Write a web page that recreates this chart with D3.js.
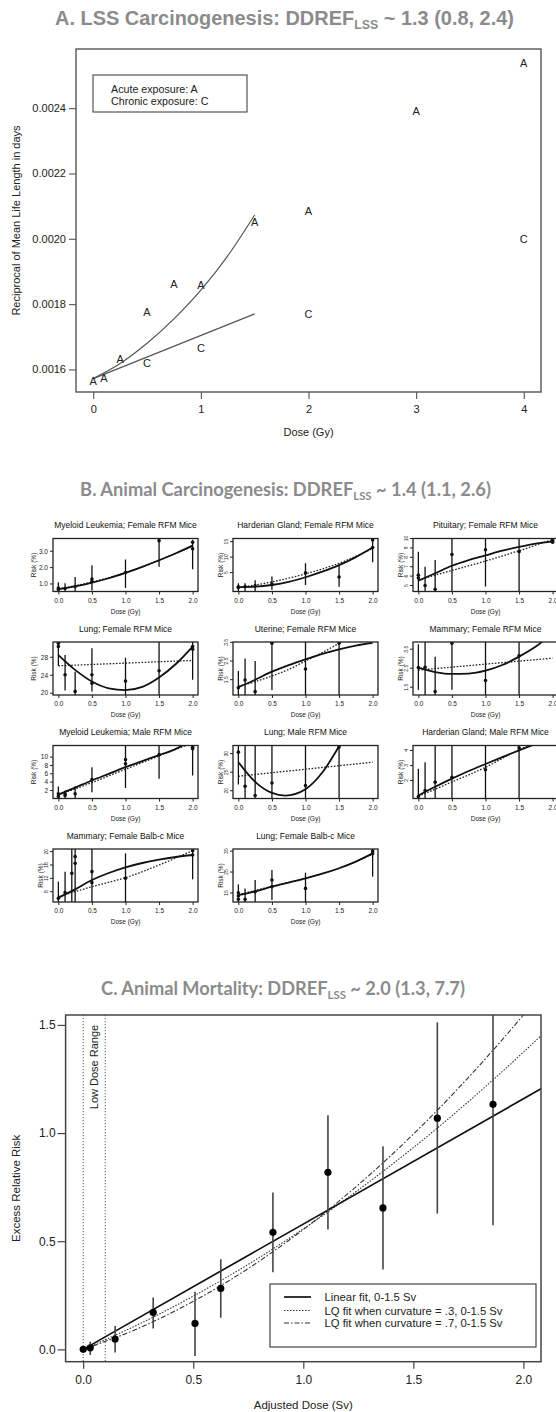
<!DOCTYPE html>
<html><head><meta charset="utf-8">
<script src="https://cdn.jsdelivr.net/npm/d3@7/dist/d3.min.js"></script>
<style>html,body{margin:0;padding:0;background:#fff}svg{display:block}</style>
</head><body>
<svg id="chart" width="556" height="1412"></svg>
<script>
// ================= DATA =================
// ---- Panel A ----
const aXTicks = [0, 1, 2, 3, 4];
const aYTicks = [0.0016, 0.0018, 0.0020, 0.0022, 0.0024];
const acuteDose  = [0, 0.1, 0.25, 0.5, 0.75, 1, 1.5, 2, 3, 4];
const acuteRecip = [0.001564, 0.001575, 0.001632, 0.001775, 0.001861, 0.001858, 0.002052, 0.002085, 0.00239, 0.002538];
const chronicDose  = [0.5, 1, 2, 4];
const chronicRecip = [0.001621, 0.001666, 0.001769, 0.001998];
const acuteFitDose  = [0, 0.25, 0.5, 0.75, 1, 1.25, 1.5];
const acuteFitRecip = [0.001572, 0.001618, 0.00168, 0.001755, 0.001843, 0.001948, 0.002073];
const chronicFitDose  = [0, 1.5];
const chronicFitRecip = [0.001572, 0.00177];
const aLegend = ["Acute exposure: A", "Chronic exposure: C"];

// ---- Panel B ----
const bXTicks = [0, 0.5, 1, 1.5, 2];
const bTitles = ["Myeloid Leukemia; Female RFM Mice", "Harderian Gland; Female RFM Mice", "Pituitary; Female RFM Mice",
  "Lung; Female RFM Mice", "Uterine; Female RFM Mice", "Mammary; Female RFM Mice",
  "Myeloid Leukemia; Male RFM Mice", "Lung; Male RFM Mice", "Harderian Gland; Male RFM Mice",
  "Mammary; Female Balb-c Mice", "Lung; Female Balb-c Mice"];
const bYRange = [[0.54,3.78],[-1.1,16.0],[4.36,10.0],[19.6,31.4],[0.68,3.52],[1.09,3.88],[0.07,12.8],[17.9,32.2],[0.8,4.33],[4.9,20.8],[10.7,36.0]];
const bYTickLabels = [["1.0","2.0","3.0"],["5","10","15"],["5","6","7","8","9","10"],["20","24","28"],["1.5","2.5","3.5"],["1.5","2.5","3.5"],
  ["2","4","6","8","10"],["20","25","30"],["2","3","4"],["8","12","16","20"],["15","25","35"]];

// points [dose, risk], error bars [dose, low, high], solid fit [dose, risk], dotted fit [dose, risk]
const b01Pts = [[0,0.75],[0,0.66],[0.1,0.72],[0.25,0.85],[0.5,1.3],[0.5,1.15],[1,1.7],[1.5,3.65],[2,3.55],[2,3.15]];
const b01Err = [[0,0.45,1.1],[0.1,0.45,1.05],[0.25,0.5,1.42],[0.5,0.6,2.15],[1,0.75,2.5],[1.5,2.06,3.9],[2,1.9,3.7]];
const b01Sol = [[0,0.68],[0.25,0.85],[0.5,1.08],[0.75,1.35],[1,1.68],[1.25,2.05],[1.5,2.45],[1.75,2.88],[2,3.35]];
const b01Dot = [[0,0.7],[0.5,1.12],[1,1.7],[1.5,2.45],[2,3.3]];

const b02Pts = [[0,0.4],[0,0.2],[0.1,0.5],[0.25,0.7],[0.5,1.3],[1,4.9],[1.5,3.6],[2,15.5],[2,13.1]];
const b02Err = [[0,-2,1.6],[0.1,-2,1.6],[0.25,-2,2.5],[0.5,-0.5,3.7],[1,1.0,8],[1.5,0.4,7.4],[2,8.3,17]];
const b02Sol = [[0,0.3],[0.25,0.45],[0.5,1.0],[0.75,2.0],[1,3.5],[1.25,5.3],[1.5,7.4],[1.75,10.0],[2,13.1]];
const b02Dot = [[0,0.1],[0.5,2.0],[1,4.6],[1.5,8.0],[2,12.8]];

const b03Pts = [[0,6.1],[0,5.8],[0.1,5.0],[0.25,4.6],[0.5,8.3],[1,8.8],[1.5,8.6],[2,9.8],[2,9.6]];
const b03Err = [[0,4.0,8.6],[0.1,4.0,7.0],[0.25,4.0,7.7],[0.5,4.0,11],[1,4.9,11],[1.5,4.0,11]];
const b03Sol = [[0,5.5],[0.25,6.3],[0.5,7.1],[0.75,7.7],[1,8.2],[1.25,8.7],[1.5,9.1],[1.75,9.45],[2,9.7]];
const b03Dot = [[0,5.56],[0.25,6.1],[0.5,6.6],[1,7.6],[1.5,8.7],[2,9.9]];

const b04Pts = [[0,31.1],[0,30.4],[0.1,24.1],[0.25,20.4],[0.5,24.1],[0.5,22.2],[1,22.7],[1.5,25.0],[2,30.4],[2,29.8]];
const b04Err = [[0,26.1,33],[0.1,20.6,28.5],[0.25,18,24.8],[0.5,20.4,30],[1,18,27.9],[1.5,18,33],[2,23.0,33]];
const b04Sol = [[0,28.5],[0.25,25.2],[0.5,22.6],[0.75,21.1],[1,20.7],[1.25,21.4],[1.5,23.5],[1.75,26.5],[2,30.4]];
const b04Dot = [[0,26.1],[2,27.3]];

const b05Pts = [[0,1.07],[0.1,1.48],[0.25,0.86],[0.5,3.45],[1,2.07],[1.5,3.45]];
const b05Err = [[0,0.5,1.97],[0.1,0.5,2.64],[0.25,0.5,2.5],[0.5,0.95,4],[1,0.5,4],[1.5,0.5,4]];
const b05Sol = [[0,1.1],[0.25,1.5],[0.5,1.93],[0.75,2.28],[1,2.59],[1.25,2.88],[1.5,3.13],[1.75,3.33],[2,3.48]];
const b05Dot = [[0,1.15],[0.25,1.39],[0.5,1.7],[0.75,2.05],[1,2.5],[1.25,2.95],[1.5,3.45],[1.6,3.65]];

const b06Pts = [[0,2.53],[0.1,2.55],[0.25,1.27],[0.5,3.82],[1,1.85],[1.5,3.15]];
const b06Err = [[0,1.36,3.76],[0.1,0.9,4.2],[0.25,0.9,3.11],[0.5,1.36,4.2],[1,0.9,4.2],[1.5,0.9,4.2]];
const b06Sol = [[0,2.53],[0.25,2.3],[0.5,2.2],[0.75,2.22],[1,2.37],[1.25,2.67],[1.5,3.11],[1.75,3.64],[1.85,3.9]];
const b06Dot = [[0,2.4],[2,3.03]];

const b07Pts = [[0,1.2],[0,0.55],[0.1,0.8],[0.1,1.2],[0.25,1.2],[0.5,4.6],[1,9.4],[1,8.4],[1.5,10.6],[2,12.4],[2,12.0]];
const b07Err = [[0,-1,2.96],[0.1,-1,2.0],[0.25,-1,3.0],[0.5,1.6,7.6],[1,2.6,13],[1.5,4.8,13],[2,5.6,13]];
const b07Sol = [[0,1.0],[0.25,2.7],[0.5,4.4],[0.75,6.0],[1,7.6],[1.25,9.05],[1.5,10.5],[1.75,12.0],[1.85,12.8]];
const b07Dot = [[0,0.9],[0.5,3.9],[1,7.1],[1.5,10.3],[1.9,12.8]];

const b08Pts = [[0,30.4],[0.1,21.2],[0.25,18.7],[0.5,22.1],[1,21.4],[1.5,31.8]];
const b08Err = [[0,21.7,33],[0.1,17,33],[0.25,17,33],[0.5,17,33],[1,17,33],[1.5,17,33]];
const b08Sol = [[0,27.7],[0.25,22.4],[0.5,19.4],[0.7,18.7],[1,20.4],[1.25,24.9],[1.5,32]];
const b08Dot = [[0,23.9],[2,27.7]];

const b09Pts = [[0,0.93],[0.1,1.33],[0.25,1.89],[0.5,2.22],[1,2.71],[1.5,4.18]];
const b09Err = [[0,0.5,2.78],[0.1,0.5,3.22],[0.25,0.5,4.5],[0.5,0.5,4.5],[1,0.5,4.5],[1.5,0.5,4.5]];
const b09Sol = [[0,1.0],[0.25,1.58],[0.5,2.12],[0.75,2.63],[1,3.1],[1.25,3.56],[1.5,4.0],[1.7,4.35]];
const b09Dot = [[0,0.95],[0.5,1.9],[1,2.88],[1.5,4.05],[1.65,4.35]];

const b10Pts = [[0,6.0],[0.1,7.7],[0.2,13.5],[0.25,18.5],[0.25,16.5],[0.5,14],[0.5,10.7],[1,12],[2,20.3],[2,19.0]];
const b10Err = [[0,4,11],[0.1,4,14],[0.2,4,22],[0.25,4,22],[0.5,4,22],[1,4,19.5],[2,11.7,22]];
const b10Sol = [[0,6.2],[0.25,8.7],[0.5,11.5],[0.75,13.6],[1,15.3],[1.25,16.6],[1.5,17.6],[1.75,18.4],[2,19.0]];
const b10Dot = [[0,6.5],[0.25,8.0],[0.5,9.5],[0.75,10.8],[1,12.2],[1.5,16.0],[2,20.3]];

const b11Pts = [[0,15.1],[0,13.6],[0,12.0],[0.1,12.0],[0.25,15.6],[0.5,21.2],[0.5,18.0],[1,17.2],[2,35.1],[2,33.9]];
const b11Err = [[0,9,19.1],[0.1,9,17.2],[0.25,9,21.2],[0.5,11.7,26],[1,9,24.7],[2,22.8,37]];
const b11Sol = [[0,14],[0.25,15.8],[0.5,18],[0.75,20],[1,22],[1.25,24.2],[1.5,26.8],[1.75,30],[2,33.9]];
const b11Dot = [[0,14.2],[0.5,18.2],[1,22],[1.5,26.8],[2,33.5]];

// ---- Panel C ----
const cXTicks = [0, 0.5, 1, 1.5, 2];
const cYTicks = [0, 0.5, 1, 1.5];
const cDose = [0, 0.032, 0.145, 0.318, 0.508, 0.625, 0.862, 1.112, 1.362, 1.609, 1.862];
const cERR  = [0, 0.007, 0.048, 0.171, 0.12, 0.282, 0.541, 0.819, 0.654, 1.069, 1.133];
const cLow  = [null, -0.026, -0.014, 0.097, -0.031, 0.146, 0.357, 0.554, 0.369, 0.628, 0.574];
const cHigh = [null, 0.035, 0.108, 0.24, 0.266, 0.417, 0.725, 1.082, 0.939, 1.512, 1.7];
const cLinDose = [0, 2.08];
const cLinERR  = [0, 1.205];
const cLQDose  = [0, 0.25, 0.5, 0.75, 1, 1.25, 1.5, 1.75, 2, 2.08];
const cLQ3ERR  = [0, 0.115, 0.246, 0.393, 0.557, 0.737, 0.933, 1.145, 1.374, 1.45];
const cLQ7ERR  = [0, 0.097, 0.222, 0.374, 0.554, 0.761, 0.995, 1.257, 1.546, 1.644];
const cLegend = ["Linear fit, 0-1.5 Sv", "LQ fit when curvature = .3, 0-1.5 Sv", "LQ fit when curvature = .7, 0-1.5 Sv"];

// ================= DRAWING =================
const svg = d3.select('#chart');
const SANS = "'Liberation Sans', Arial, Helvetica, sans-serif";
const TITLEGRAY = '#8b8b8b';

function fitTitle(p1, sub, p2, cx, base, targetW, family) {
  const t = svg.append('text').attr('x', cx).attr('y', base).attr('text-anchor', 'middle')
    .attr('font-family', family).attr('font-weight', 700).attr('font-size', 20).attr('fill', TITLEGRAY);
  t.append('tspan').text(p1);
  t.append('tspan').attr('font-size', '0.62em').attr('dy', '0.36em').text(sub);
  t.append('tspan').attr('dy', '-0.223em').text(p2);
  const w = t.node().getComputedTextLength();
  t.attr('font-size', 20 * targetW / w);
}

// ---------- Panel A ----------
fitTitle("A. LSS Carcinogenesis: DDREF", "LSS", " ~ 1.3 (0.8, 2.4)", 284.5, 25, 459, SANS);
{
  const L = 76, R = 541, T = 49, B = 392;
  const ax = d3.scaleLinear().domain([-0.16, 4.16]).range([L, R]);
  const ay = d3.scaleLinear().domain([0.001531, 0.002581]).range([B, T]);
  const g = svg.append('g');
  const xa = g.append('g').attr('transform', `translate(0,${B})`)
    .call(d3.axisBottom(ax).tickValues(aXTicks).tickFormat(d3.format('d')).tickSize(7).tickPadding(6));
  const ya = g.append('g').attr('transform', `translate(${L},0)`)
    .call(d3.axisLeft(ay).tickValues(aYTicks).tickFormat(d3.format('.4f')).tickSize(7).tickPadding(3));
  [xa, ya].forEach(a => {
    a.select('.domain').remove();
    a.selectAll('line').attr('stroke', '#555').attr('stroke-width', 1.1);
    a.selectAll('text').attr('font-family', SANS).attr('font-size', 11).attr('fill', '#222');
  });
  g.append('rect').attr('x', L).attr('y', T).attr('width', R - L).attr('height', B - T)
    .attr('fill', 'none').attr('stroke', '#555').attr('stroke-width', 1.4);
  g.append('text').attr('x', (L + R) / 2).attr('y', 436).attr('text-anchor', 'middle')
    .attr('font-family', SANS).attr('font-size', 11).attr('fill', '#222').text('Dose (Gy)');
  g.append('text').attr('transform', `translate(20,${(T + B) / 2}) rotate(-90)`).attr('text-anchor', 'middle')
    .attr('font-family', SANS).attr('font-size', 11).attr('fill', '#222').text('Reciprocal of Mean Life Length in days');

  const line = d3.line().x(d => ax(d[0])).y(d => ay(d[1])).curve(d3.curveMonotoneX);
  g.append('path').attr('d', line(d3.zip(acuteFitDose, acuteFitRecip))).attr('fill', 'none').attr('stroke', '#555').attr('stroke-width', 1.2);
  g.append('path').attr('d', line(d3.zip(chronicFitDose, chronicFitRecip))).attr('fill', 'none').attr('stroke', '#555').attr('stroke-width', 1.2);

  g.selectAll('.pa').data(d3.zip(acuteDose, acuteRecip)).join('text').attr('class', 'pa')
    .attr('x', d => ax(d[0])).attr('y', d => ay(d[1])).attr('dy', '0.36em').attr('text-anchor', 'middle')
    .attr('font-family', SANS).attr('font-size', 11).attr('fill', '#222').text('A');
  g.selectAll('.pc').data(d3.zip(chronicDose, chronicRecip)).join('text').attr('class', 'pc')
    .attr('x', d => ax(d[0])).attr('y', d => ay(d[1])).attr('dy', '0.36em').attr('text-anchor', 'middle')
    .attr('font-family', SANS).attr('font-size', 11).attr('fill', '#222').text('C');

  g.append('rect').attr('x', 93).attr('y', 75).attr('width', 154).attr('height', 37)
    .attr('fill', '#fff').attr('stroke', '#333').attr('stroke-width', 1);
  aLegend.forEach((s, i) => g.append('text').attr('x', 111).attr('y', 93.3 + i * 11.4)
    .attr('font-family', SANS).attr('font-size', 10.7).attr('fill', '#222').text(s));
}

// ---------- Panel B ----------
fitTitle("B. Animal Carcinogenesis: DDREF", "LSS", " ~ 1.4 (1.1, 2.6)", 285.5, 496, 411, "Lato, 'Open Sans', sans-serif");
{
  const pts = [b01Pts,b02Pts,b03Pts,b04Pts,b05Pts,b06Pts,b07Pts,b08Pts,b09Pts,b10Pts,b11Pts];
  const errs = [b01Err,b02Err,b03Err,b04Err,b05Err,b06Err,b07Err,b08Err,b09Err,b10Err,b11Err];
  const sols = [b01Sol,b02Sol,b03Sol,b04Sol,b05Sol,b06Sol,b07Sol,b08Sol,b09Sol,b10Sol,b11Sol];
  const dots = [b01Dot,b02Dot,b03Dot,b04Dot,b05Dot,b06Dot,b07Dot,b08Dot,b09Dot,b10Dot,b11Dot];
  const colLeft = [53, 233, 413], rowTop = [538.5, 642, 745.5, 849];
  const W = 145, H = 53;
  const horizLabels = [0, 3, 6];
  bTitles.forEach((title, i) => {
    const L = colLeft[i % 3], T = rowTop[Math.floor(i / 3)];
    const x = d3.scaleLinear().domain([-0.08, 2.08]).range([L, L + W]);
    const y = d3.scaleLinear().domain(bYRange[i]).range([T + H, T]);
    const g = svg.append('g');
    const cid = 'clipB' + i;
    svg.append('clipPath').attr('id', cid).append('rect').attr('x', L).attr('y', T).attr('width', W).attr('height', H);
    const pg = g.append('g').attr('clip-path', `url(#${cid})`);

    pg.selectAll('.eb').data(errs[i]).join('line')
      .attr('x1', d => x(d[0])).attr('x2', d => x(d[0])).attr('y1', d => y(d[1])).attr('y2', d => y(d[2]))
      .attr('stroke', '#111').attr('stroke-width', 1.3);
    const line = d3.line().x(d => x(d[0])).y(d => y(d[1])).curve(d3.curveMonotoneX);
    pg.append('path').attr('d', line(dots[i])).attr('fill', 'none').attr('stroke', '#222')
      .attr('stroke-width', 1.3).attr('stroke-dasharray', '1.6,1.6');
    pg.append('path').attr('d', line(sols[i])).attr('fill', 'none').attr('stroke', '#111').attr('stroke-width', 1.8);
    pg.selectAll('circle').data(pts[i]).join('circle')
      .attr('cx', d => x(d[0])).attr('cy', d => y(d[1])).attr('r', 1.8).attr('fill', '#111');

    g.append('rect').attr('x', L).attr('y', T).attr('width', W).attr('height', H)
      .attr('fill', 'none').attr('stroke', '#222').attr('stroke-width', 1.3);

    const xa = g.append('g').attr('transform', `translate(0,${T + H})`)
      .call(d3.axisBottom(x).tickValues(bXTicks).tickFormat(d3.format('.1f')).tickSize(3).tickPadding(3.5));
    xa.select('.domain').remove();
    xa.selectAll('line').attr('stroke', '#222');
    xa.selectAll('text').attr('font-family', SANS).attr('font-size', 6.5).attr('fill', '#222');

    const tickVals = bYTickLabels[i].map(Number);
    const horiz = horizLabels.includes(i);
    g.selectAll('.yt').data(tickVals).join('line').attr('class', 'yt')
      .attr('x1', L - 3).attr('x2', L).attr('y1', d => y(d)).attr('y2', d => y(d)).attr('stroke', '#222');
    if (horiz) {
      g.selectAll('.yl').data(bYTickLabels[i]).join('text').attr('class', 'yl')
        .attr('x', L - 5).attr('y', (d, j) => y(tickVals[j])).attr('dy', '0.35em').attr('text-anchor', 'end')
        .attr('font-family', SANS).attr('font-size', 6.5).attr('fill', '#222').text(d => d);
    } else {
      g.selectAll('.yl').data(bYTickLabels[i]).join('text').attr('class', 'yl')
        .attr('transform', (d, j) => `translate(${L - 5},${y(tickVals[j])}) rotate(-90)`).attr('text-anchor', 'middle')
        .attr('font-family', SANS).attr('font-size', 5).attr('fill', '#222').text(d => d);
    }
    g.append('text').attr('transform', `translate(${L - (horiz ? 17 : 10)},${T + H / 2}) rotate(-90)`)
      .attr('text-anchor', 'middle').attr('font-family', SANS).attr('font-size', 6.5).attr('fill', '#222').text('Risk (%)');
    g.append('text').attr('x', L + W / 2).attr('y', T - 10.5).attr('text-anchor', 'middle')
      .attr('font-family', SANS).attr('font-size', 8.5).attr('fill', '#111').text(title);
    g.append('text').attr('x', L + W / 2).attr('y', T + H + 22).attr('text-anchor', 'middle')
      .attr('font-family', SANS).attr('font-size', 6.5).attr('fill', '#222').text('Dose (Gy)');
  });
}

// ---------- Panel C ----------
fitTitle("C. Animal Mortality: DDREF", "LSS", " ~ 2.0 (1.3, 7.7)", 283, 995, 364, "Lato, 'Open Sans', sans-serif");
{
  const L = 65.6, R = 541, T = 1015, B = 1361.7;
  const x = d3.scaleLinear().domain([-0.08, 2.08]).range([L, R]);
  const y = d3.scaleLinear().domain([-0.057, 1.546]).range([B, T]);
  const g = svg.append('g');
  svg.append('clipPath').attr('id', 'clipC').append('rect').attr('x', L).attr('y', T).attr('width', R - L).attr('height', B - T);
  const pg = g.append('g').attr('clip-path', 'url(#clipC)');

  [0, 0.1].forEach(v => pg.append('line').attr('x1', x(v)).attr('x2', x(v)).attr('y1', T).attr('y2', B)
    .attr('stroke', '#555').attr('stroke-width', 1).attr('stroke-dasharray', '1.2,1.8'));
  g.append('text').attr('transform', `translate(${(x(0) + x(0.1)) / 2},1067) rotate(-90)`).attr('dy', '0.36em')
    .attr('text-anchor', 'middle').attr('font-family', SANS).attr('font-size', 11).attr('fill', '#222').text('Low Dose Range');

  const line = d3.line().x(d => x(d[0])).y(d => y(d[1]));
  const curve = d3.line().x(d => x(d[0])).y(d => y(d[1])).curve(d3.curveMonotoneX);
  pg.append('path').attr('d', curve(d3.zip(cLQDose, cLQ3ERR))).attr('fill', 'none').attr('stroke', '#333')
    .attr('stroke-width', 1.1).attr('stroke-dasharray', '1.5,1.5');
  pg.append('path').attr('d', curve(d3.zip(cLQDose, cLQ7ERR))).attr('fill', 'none').attr('stroke', '#333')
    .attr('stroke-width', 1.1).attr('stroke-dasharray', '5,2,1.5,2');
  pg.append('path').attr('d', line(d3.zip(cLinDose, cLinERR))).attr('fill', 'none').attr('stroke', '#111').attr('stroke-width', 1.7);

  const rows = cDose.map((d, i) => ({ d, v: cERR[i], lo: cLow[i], hi: cHigh[i] }));
  pg.selectAll('.eb').data(rows.filter(r => r.lo !== null)).join('line').attr('class', 'eb')
    .attr('x1', r => x(r.d)).attr('x2', r => x(r.d)).attr('y1', r => y(r.lo)).attr('y2', r => y(r.hi))
    .attr('stroke', '#444').attr('stroke-width', 1.6);
  pg.selectAll('circle').data(rows).join('circle')
    .attr('cx', r => x(r.d)).attr('cy', r => y(r.v)).attr('r', 3.6).attr('fill', '#000');

  g.append('rect').attr('x', L).attr('y', T).attr('width', R - L).attr('height', B - T)
    .attr('fill', 'none').attr('stroke', '#444').attr('stroke-width', 1.5);
  const xa = g.append('g').attr('transform', `translate(0,${B})`)
    .call(d3.axisBottom(x).tickValues(cXTicks).tickFormat(d3.format('.1f')).tickSize(7).tickPadding(7));
  const ya = g.append('g').attr('transform', `translate(${L},0)`)
    .call(d3.axisLeft(y).tickValues(cYTicks).tickFormat(d3.format('.1f')).tickSize(8).tickPadding(2));
  [xa, ya].forEach(a => {
    a.select('.domain').remove();
    a.selectAll('line').attr('stroke', '#444').attr('stroke-width', 1.2);
    a.selectAll('text').attr('font-family', SANS).attr('font-size', 12).attr('fill', '#222');
  });
  g.append('text').attr('x', (L + R) / 2).attr('y', 1409).attr('text-anchor', 'middle')
    .attr('font-family', SANS).attr('font-size', 11.5).attr('fill', '#222').text('Adjusted Dose (Sv)');
  g.append('text').attr('transform', `translate(20,${(T + B) / 2}) rotate(-90)`).attr('text-anchor', 'middle')
    .attr('font-family', SANS).attr('font-size', 11.5).attr('fill', '#222').text('Excess Relative Risk');

  // legend
  g.append('rect').attr('x', 270).attr('y', 1284).attr('width', 266).attr('height', 63)
    .attr('fill', '#fff').attr('stroke', '#444').attr('stroke-width', 1.2);
  const dashes = [null, '1.5,1.5', '5,2,1.5,2'];
  const ly = [1297, 1310.5, 1323];
  cLegend.forEach((s, i) => {
    g.append('line').attr('x1', 284).attr('x2', 311).attr('y1', ly[i]).attr('y2', ly[i])
      .attr('stroke', i === 0 ? '#111' : '#333').attr('stroke-width', i === 0 ? 1.7 : 1.1)
      .attr('stroke-dasharray', dashes[i]);
    g.append('text').attr('x', 324.5).attr('y', ly[i]).attr('dy', '0.36em')
      .attr('font-family', SANS).attr('font-size', 11.3).attr('fill', '#222').text(s);
  });
}
</script>
</body></html>
